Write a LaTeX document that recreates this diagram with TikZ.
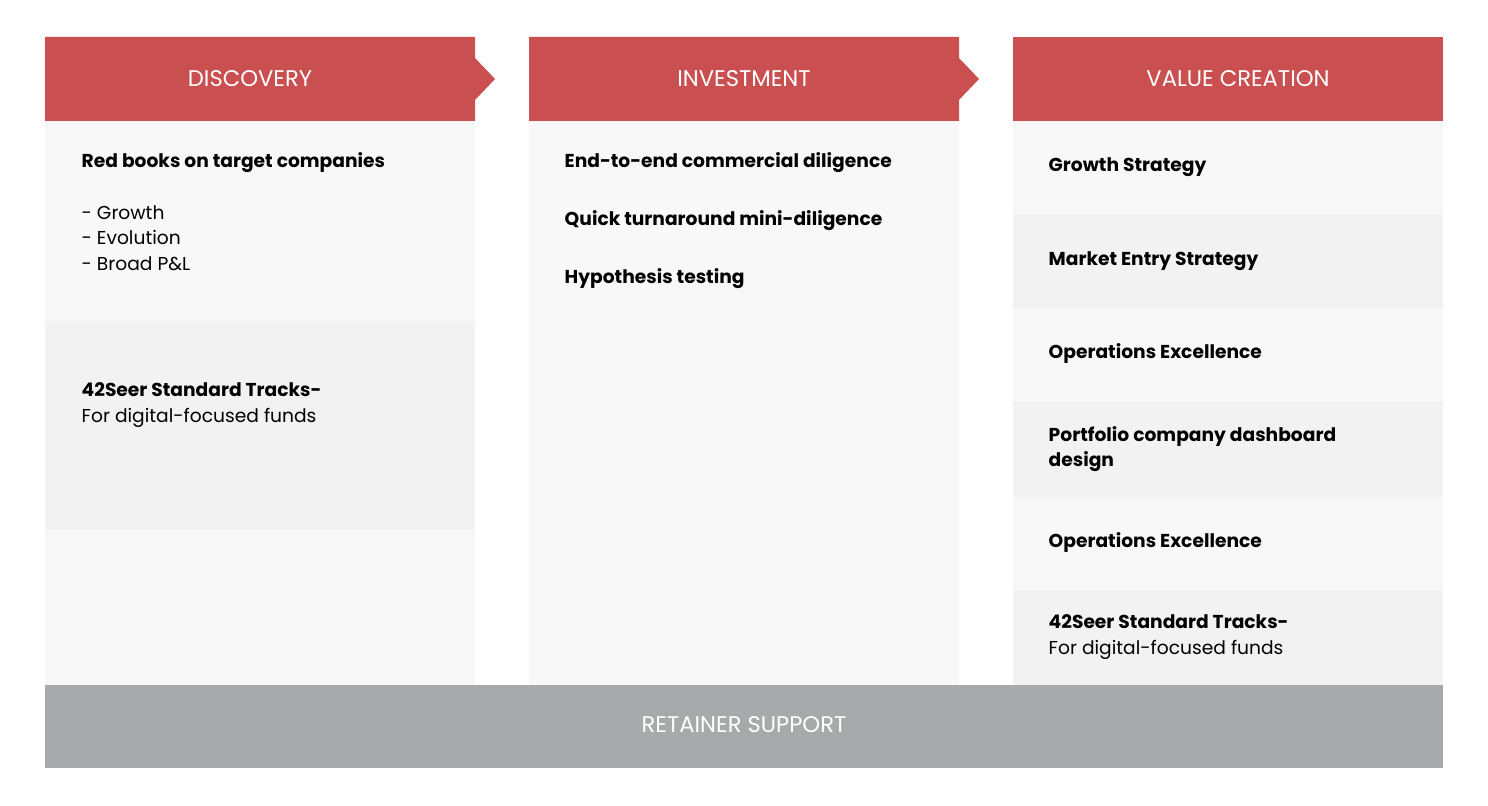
\documentclass[tikz,border=0pt]{standalone}
\usepackage{fontspec}
\setmainfont{Poppins}
\definecolor{redh}{HTML}{C94F50}
\definecolor{lt}{HTML}{F8F8F8}
\definecolor{dk}{HTML}{F1F2F1}
\definecolor{gr}{HTML}{A7A9AB}
\begin{document}
\begin{tikzpicture}[x=0.75pt,y=-0.75pt,
 hdr/.style={font=\fontsize{17}{20}\selectfont,text=white,anchor=center},
 item/.style={font=\fontsize{14}{19}\selectfont,anchor=west,align=left}]
\useasboundingbox (0,0) rectangle (1488,806);
% headers
\fill[redh] (45,37) -- (475,37) -- (475,58) -- (495,79) -- (475,100) -- (475,121) -- (45,121) -- cycle;
\fill[redh] (529,37) -- (959,37) -- (959,58) -- (979,79) -- (959,100) -- (959,121) -- (529,121) -- cycle;
\fill[redh] (1013,37) rectangle (1443,121);
\node[hdr] (h1) at (250,79) {DISCOVERY};
\node[hdr] (h2) at (744,79) {INVESTMENT};
\node[hdr] (h3) at (1238,79) {VALUE CREATION};
% bodies
\fill[lt] (45,121) rectangle (475,321);
\fill[dk] (45,321) rectangle (475,530);
\fill[lt] (45,530) rectangle (475,685);
\fill[lt] (529,121) rectangle (959,685);
\foreach \a/\b/\c in {121/214/lt,214/309/dk,309/402/lt,402/497/dk,497/590/lt,590/685/dk}
  \fill[\c] (1013,\a) rectangle (1443,\b);
\fill[gr] (45,685) rectangle (1443,768);
\node[hdr] (r) at (744,725) {RETAINER SUPPORT};
% discovery
\node[item] (d1) at (77,163) {\textbf{Red books on target companies}};
\node[item] (d2) at (77,238) {- Growth\\- Evolution\\- Broad P\&L};
\node[item] (d3) at (77,405) {\textbf{42Seer Standard Tracks-}\\For digital-focused funds};
% investment
\node[item] (i1) at (560,163) {\textbf{End-to-end commercial diligence}};
\node[item] (i2) at (560,221) {\textbf{Quick turnaround mini-diligence}};
\node[item] (i3) at (560,279) {\textbf{Hypothesis testing}};
% value creation
\node[item] (v1) at (1044,167) {\textbf{Growth Strategy}};
\node[item] (v2) at (1044,261) {\textbf{Market Entry Strategy}};
\node[item] (v3) at (1044,354) {\textbf{Operations Excellence}};
\node[item] (v4) at (1044,449) {\textbf{Portfolio company dashboard}\\\textbf{design}};
\node[item] (v5) at (1044,543) {\textbf{Operations Excellence}};
\node[item] (v6) at (1044,637) {\textbf{42Seer Standard Tracks-}\\For digital-focused funds};
\end{tikzpicture}
\end{document}
